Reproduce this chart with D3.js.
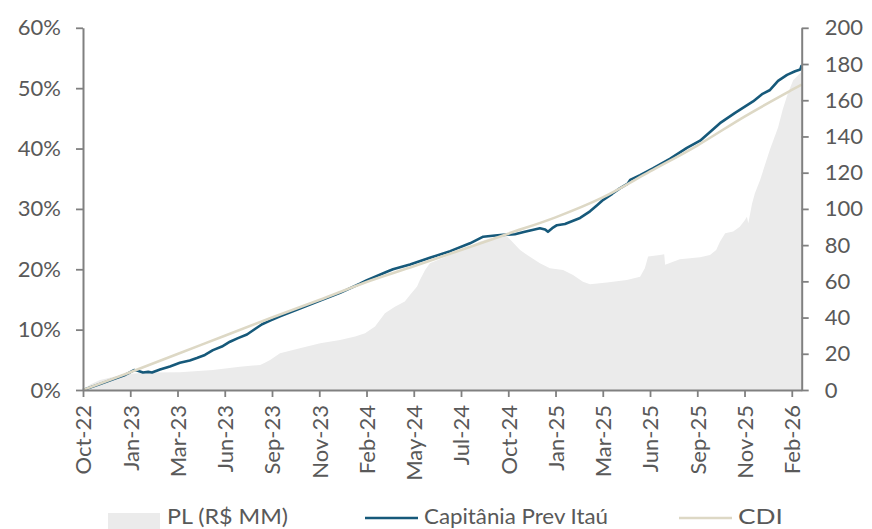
<!DOCTYPE html>
<html>
<head>
<meta charset="utf-8">
<script src="https://cdn.jsdelivr.net/npm/d3@7/dist/d3.min.js"></script>
<style>
  body { margin: 0; background: #fff; }
  svg { display: block; }
  text { font-family: Lato, "Open Sans", sans-serif; fill: #595959; }
</style>
</head>
<body>
<svg id="chart" width="872" height="529"></svg>
<script>
// ---- Data (positions in tick-interval units along the category axis) ----
const tickLabels = ["Oct-22","Jan-23","Mar-23","Jun-23","Sep-23","Nov-23","Feb-24","May-24",
                    "Jul-24","Oct-24","Jan-25","Mar-25","Jun-25","Sep-25","Nov-25","Feb-26"];
const leftTicks = [0, 10, 20, 30, 40, 50, 60];
const rightTicks = [0, 20, 40, 60, 80, 100, 120, 140, 160, 180, 200];
const xEnd = 15.21;

// Capitânia Prev Itaú, cumulative return (%)
const fundPos = [0,0.36,0.68,0.89,0.99,1.08,1.16,1.27,1.38,1.46,1.63,1.84,2.05,2.26,2.41,2.58,2.75,2.94,
  3.11,3.28,3.47,3.64,3.79,3.96,4.17,4.59,5.02,5.44,5.86,6.01,6.43,6.56,6.92,7.34,7.77,8.19,8.47,8.72,
  8.89,9.14,9.35,9.67,9.78,9.84,9.93,10.03,10.20,10.52,10.73,10.88,11.01,11.20,11.36,11.53,11.58,11.79,
  12.06,12.42,12.78,13.06,13.48,13.80,14.18,14.37,14.54,14.71,14.90,15.07,15.18,15.21];
const fundVal = [0,1.0,1.9,2.5,2.9,3.3,3.2,2.9,3.0,2.9,3.4,3.9,4.5,4.9,5.3,5.8,6.6,7.2,
  8.0,8.6,9.2,10.1,10.9,11.5,12.2,13.5,14.8,16.1,17.6,18.2,19.6,20.0,20.8,21.9,23.0,24.3,25.4,25.6,
  25.7,25.8,26.2,26.8,26.6,26.2,26.8,27.3,27.5,28.5,29.6,30.6,31.5,32.5,33.4,34.2,34.8,35.6,
  36.7,38.3,40.1,41.3,44.2,45.9,47.8,49.0,49.7,51.2,52.2,52.8,53.1,53.8];

// CDI, cumulative return (%)
const cdiPos = [0,1,2,3,4,5,6,7,8,9,10,11,12,13,14,15,15.21];
const cdiVal = [0,2.95,5.95,9.0,12.0,14.9,17.9,20.5,23.2,25.9,28.6,31.9,36.2,40.5,45.3,49.7,50.6];

// PL (R$ MM), right axis
const plPos = [0,0.15,0.36,0.68,0.99,1.42,2.05,2.75,3.32,3.75,3.85,3.96,4.17,4.59,5.02,5.44,5.76,5.97,
  6.18,6.39,6.60,6.81,6.92,7.07,7.13,7.24,7.34,7.55,7.77,8.08,8.40,8.72,8.93,9.08,9.25,9.40,9.67,9.88,
  10.16,10.37,10.58,10.73,11.09,11.51,11.79,11.89,11.96,12.21,12.30,12.32,12.63,13.06,13.27,13.40,13.48,
  13.59,13.76,13.90,14.01,14.05,14.08,14.16,14.22,14.33,14.54,14.71,14.81,14.92,15.03,15.18,15.21];
const plVal = [0,3,5.5,7.5,9,9.6,9.8,11,12.9,13.8,15,16.6,20.3,23,25.8,27.6,29.5,31.3,
  35,42.4,46,48.8,52.5,57.1,60.8,66.3,70,72.2,74.6,78,82,84.5,86,82,77.3,74.6,70,67.2,
  66.3,63.5,59.8,58.4,59.3,60.8,62.6,67.2,73.7,74.6,75,69.1,72.2,73.3,74.6,77.3,81.9,
  86.6,87.5,90.2,93.9,95.7,92.1,103,108.7,116,133,145,155,164,171,175,176];

const legendItems = [
  { name: "PL (R$ MM)", type: "area" },
  { name: "Capitânia Prev Itaú", type: "fund" },
  { name: "CDI", type: "cdi" }
];

// ---- Styles ----
const C_FUND = "#16597a", C_CDI = "#ddd8c5", C_AREA = "#ebebeb", C_AXIS = "#808080";

// ---- Layout ----
const svg = d3.select("#chart");
const m = { left: 83, right: 801.7, top: 27.8, bottom: 390 };

const x = d3.scaleLinear().domain([0, xEnd]).range([m.left, m.right]);
const yL = d3.scaleLinear().domain([0, 60]).range([m.bottom, m.top]);
const yR = d3.scaleLinear().domain([0, 200]).range([m.bottom, m.top]);

const pl = plPos.map((p, i) => [p, plVal[i]]);
const fund = fundPos.map((p, i) => [p, fundVal[i]]);
const cdi = cdiPos.map((p, i) => [p, cdiVal[i]]);

svg.append("path")
  .datum(pl)
  .attr("fill", C_AREA)
  .attr("d", d3.area().x(d => x(d[0])).y0(yR(0)).y1(d => yR(d[1])));

svg.append("path")
  .datum(fund)
  .attr("fill", "none").attr("stroke", C_FUND).attr("stroke-width", 2.6)
  .attr("stroke-linejoin", "round")
  .attr("d", d3.line().x(d => x(d[0])).y(d => yL(d[1])));

svg.append("path")
  .datum(cdi)
  .attr("fill", "none").attr("stroke", C_CDI).attr("stroke-width", 2.6)
  .attr("d", d3.line().curve(d3.curveMonotoneX).x(d => x(d[0])).y(d => yL(d[1])));

// ---- Axes ----
function styleAxis(g) {
  g.selectAll("path.domain").attr("stroke", C_AXIS).attr("stroke-width", 2);
  g.selectAll(".tick line").attr("stroke", C_AXIS).attr("stroke-width", 1.8);
  g.selectAll("text").style("font-size", "22px").attr("fill", "#595959")
    .style("font-family", "Lato, 'Open Sans', sans-serif");
}

svg.append("g").attr("transform", `translate(${m.left},0)`)
  .call(d3.axisLeft(yL).tickValues(leftTicks).tickSize(7).tickSizeOuter(0).tickPadding(15)
    .tickFormat(d => d + "%"))
  .call(styleAxis);

svg.append("g").attr("transform", `translate(${m.right},0)`)
  .call(d3.axisRight(yR).tickValues(rightTicks).tickSize(7).tickSizeOuter(0).tickPadding(16)
    .tickFormat(d3.format("d")))
  .call(styleAxis);

const xAxis = svg.append("g").attr("transform", `translate(0,${m.bottom})`)
  .call(d3.axisBottom(x).tickValues(d3.range(tickLabels.length)).tickSize(7).tickSizeOuter(0)
    .tickFormat(i => tickLabels[i]))
  .call(styleAxis);
xAxis.selectAll(".tick text")
  .attr("transform", "rotate(-90)")
  .attr("x", -15).attr("y", 0).attr("dy", "0.36em")
  .style("text-anchor", "end");

// ---- Legend ----
const lg = svg.append("g");
const legendX = [108, 365, 679];
const legendTextW = [121, 184, 45];
legendItems.forEach((it, i) => {
  const g = lg.append("g").attr("transform", `translate(${legendX[i]},0)`);
  if (it.type === "area") {
    g.append("rect").attr("x", 0).attr("y", 513).attr("width", 52).attr("height", 16).attr("fill", C_AREA);
  } else {
    g.append("line").attr("x1", 0).attr("x2", 53).attr("y1", 518).attr("y2", 518)
      .attr("stroke", it.type === "fund" ? C_FUND : C_CDI).attr("stroke-width", 2.6);
  }
  g.append("text").attr("x", 59).attr("y", 524)
    .style("font-size", "21px")
    .attr("textLength", legendTextW[i]).attr("lengthAdjust", "spacingAndGlyphs")
    .text(it.name);
});
</script>
</body>
</html>
